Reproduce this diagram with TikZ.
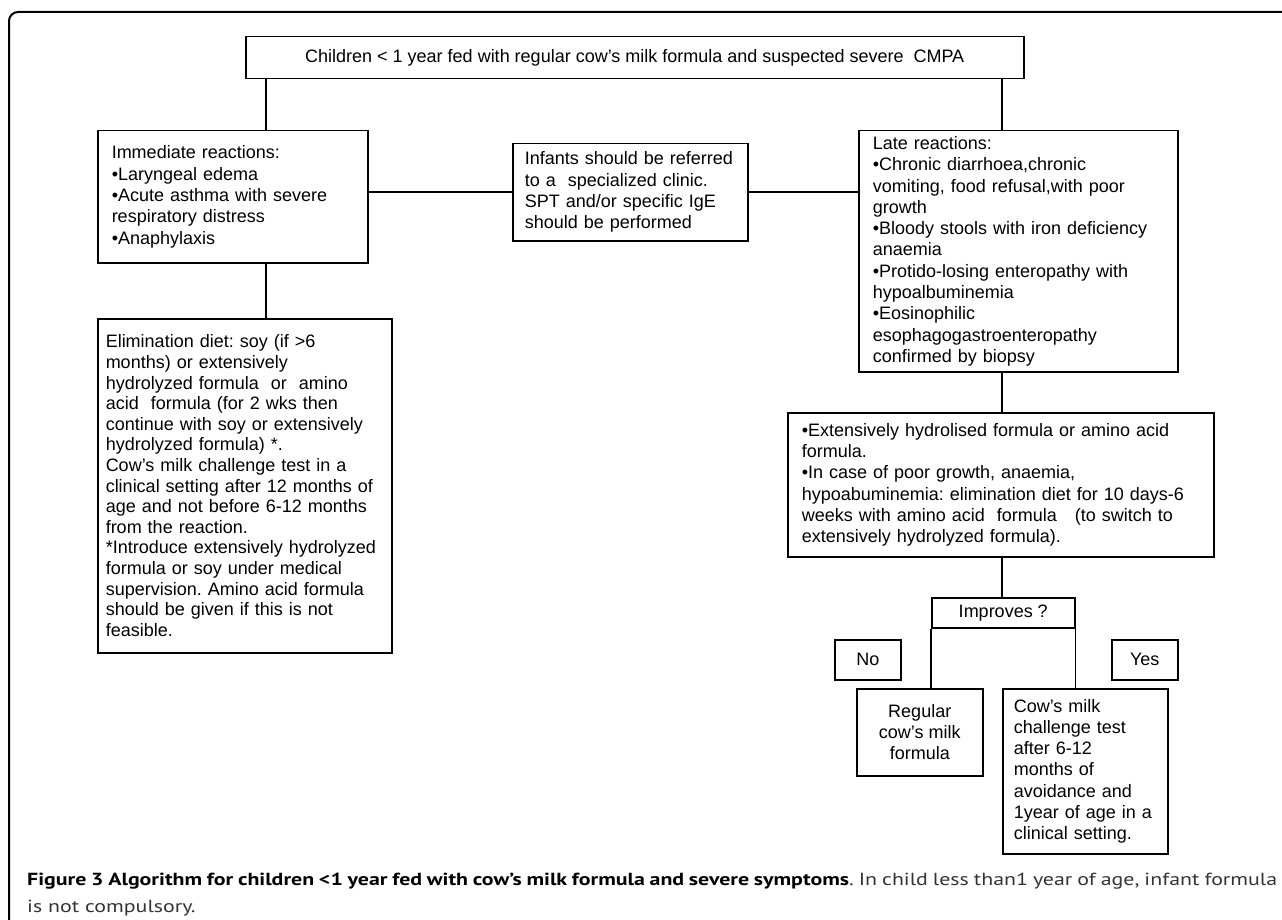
\documentclass[tikz,border=0pt]{standalone}
\usepackage{fontspec}
\setmainfont{Liberation Sans}
\newfontfamily\capfont[FakeStretch=1.25]{PT Sans}
\usetikzlibrary{positioning}

\newcommand{\boxfont}{\frenchspacing\fontsize{18}{21.3}\selectfont}
\newcommand{\capsize}{\frenchspacing\capfont\fontsize{17.5}{27}\selectfont}

\begin{document}
\begin{tikzpicture}[x=1pt,y=-1pt,
   every node/.style={font=\boxfont},
   flowbox/.style={draw,line width=1.5pt,anchor=north west,align=left,inner xsep=14pt,inner ysep=0pt},
   smallbox/.style={draw,line width=1.5pt,anchor=north west,align=center,inner sep=0pt},
   link/.style={line width=1.5pt}]
   \useasboundingbox (0,0) rectangle (1282,920);
   \draw[line width=2pt,rounded corners=9pt] (1295,12) -- (9,12) -- (9,935);
   \node[smallbox,minimum width=778pt,minimum height=42pt] (top) at (245,36)
      {Children < 1 year fed with regular cow’s milk formula and suspected severe\ \ CMPA};
   \node[flowbox,text width=242pt,minimum height=132pt] (imm) at (97,130)
      {Immediate reactions:\\•Laryngeal edema\\•Acute asthma with severe\\respiratory distress\\•Anaphylaxis};
   \node[flowbox,inner xsep=12pt,text width=211pt,minimum height=97pt] (inf) at (512,143)
      {Infants should be referred\\to a\ \ specialized clinic.\\SPT and/or specific IgE\\should be performed};
   \node[flowbox,text width=291pt,minimum height=241pt] (late) at (858,130)
      {Late reactions:\\•Chronic diarrhoea,chronic\\vomiting, food refusal,with poor\\growth\\•Bloody stools with iron deficiency\\anaemia\\•Protido-losing enteropathy with\\hypoalbuminemia\\•Eosinophilic\\esophagogastroenteropathy\\confirmed by biopsy};
   \node[flowbox,inner xsep=8pt,text width=278pt,minimum height=334pt,
         font=\frenchspacing\fontsize{18}{20.6}\selectfont] (elim) at (97,318)
      {Elimination diet: soy (if >6\\months) or extensively\\hydrolyzed formula\ \ or\ \ amino\\acid\ \ formula (for 2 wks then\\continue with soy or extensively\\hydrolyzed formula) *.\\Cow’s milk challenge test in a\\clinical setting after 12 months of\\age and not before 6-12 months\\from the reaction.\\{}*Introduce extensively hydrolyzed\\formula or soy under medical\\supervision. Amino acid formula\\should be given if this is not\\feasible.};
   \node[flowbox,text width=398pt,minimum height=144pt] (diet) at (787,412)
      {•Extensively hydrolised formula or amino acid\\formula.\\•In case of poor growth, anaemia,\\hypoabuminemia: elimination diet for 10 days-6\\weeks with amino acid\ \ formula\ \ \ (to switch to\\extensively hydrolyzed formula).};
   \node[smallbox,minimum width=143pt,minimum height=30pt] (impr) at (931,597) {Improves ?};
   \node[smallbox,minimum width=66pt,minimum height=40pt] (no) at (834,639) {No};
   \node[smallbox,minimum width=66pt,minimum height=40pt] (yes) at (1111,639) {Yes};
   \node[smallbox,minimum width=126pt,minimum height=87pt] (reg) at (856,688) {Regular\\cow’s milk\\formula};
   \node[flowbox,inner xsep=11pt,text width=143pt,minimum height=165pt] (cow) at (1002,688)
      {Cow’s milk\\challenge test\\after 6-12\\months of\\avoidance and\\1year of age in a\\clinical setting.};
   \coordinate (ldrop) at (266,0);
   \coordinate (rdrop) at (1002,0);
   \path[link]
   (top.south -| ldrop) edge (imm.north -| ldrop)
   (top.south -| rdrop) edge (late.north -| rdrop)
   (imm.south -| ldrop) edge (elim.north -| ldrop)
   (inf.west -| imm.east) edge (inf.west)
   (inf.east) edge (inf.east -| late.west)
   (late.south -| rdrop) edge (diet.north -| rdrop)
   (diet.south -| rdrop) edge (impr.north -| rdrop)
   (impr.south west) edge (impr.south west |- reg.north)
   (impr.south east) edge (impr.south east |- cow.north);
   \node[anchor=north west,text width=1250pt,align=justify,inner sep=0pt,font=\capsize] (cap) at (27,873)
      {\textbf{Figure 3 Algorithm for children <1 year fed with cow’s milk formula and severe symptoms}{\color{black!80}. In child less than1 year of age, infant formula\linebreak is not compulsory.}};
\end{tikzpicture}
\end{document}
